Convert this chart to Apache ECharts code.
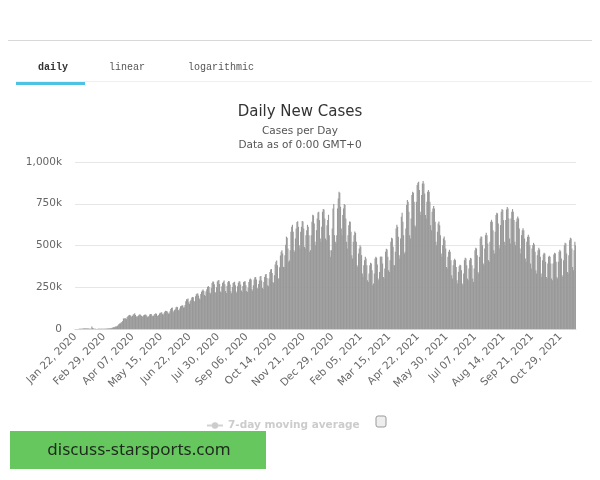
<!DOCTYPE html>
<html>
<head>
<meta charset="utf-8">
<script src="https://cdn.jsdelivr.net/npm/echarts@6/dist/echarts.min.js"></script>
<style>
  html, body { margin: 0; padding: 0; background: #fff; }
</style>
</head>
<body>
<div id="main" style="width: 600px;height: 480px"></div>

<script type="text/javascript">
    // first day of the series, one bar per day after it
    var startDate = '2020-01-22';

    // daily new cases, in thousands, one row per week (Wed..Tue)
    var dailyCases = [
        0.6,0.1,0.6,0.3,0.7,0.8,1.5,
        1.8,2.1,2.0,2.6,2.8,3.2,3.9,
        3.7,3.2,3.4,2.7,2.6,2.0,2.1,
        2.0,15.1,6.5,2.6,2.1,2.1,2.0,
        0.5,0.6,1.0,1.0,1.0,1.1,0.9,
        1.3,1.5,1.8,1.6,2.0,1.8,2.4,
        2.2,2.8,3.0,4.0,3.6,4.3,4.8,
        7.2,8.5,10.6,11.1,13.8,16.0,15.0,
        17.3,24.6,29.8,32.4,33.4,39.8,41.0,
        48.4,63.0,61.0,66.4,62.6,59.0,72.3,
        75.8,81.1,84.5,82.6,78.9,71.9,78.6,
        86.8,88.9,94.5,84.1,77.0,71.8,76.5,
        80.5,85.7,88.5,84.0,78.3,72.7,76.0,
        82.6,84.8,86.8,85.5,79.4,71.2,74.9,
        76.7,86.1,89.0,89.7,81.3,77.0,78.6,
        86.1,89.7,94.6,90.2,79.0,77.9,84.1,
        92.7,97.0,97.6,99.6,88.8,86.0,94.4,
        104,109,108,106,100,91,95,
        106,120,126,128,110,100,113,
        118,130,133,131,114,108,123,
        136,138,142,140,128,130,143,
        166,178,178,182,160,150,168,
        175,188,192,190,168,163,196,
        208,212,212,200,182,176,210,
        223,230,236,228,203,198,224,
        238,252,257,252,218,212,246,
        276,285,283,268,222,216,250,
        285,290,293,270,225,220,256,
        276,283,290,268,228,216,257,
        280,287,284,266,226,214,251,
        275,280,283,262,225,216,256,
        277,286,285,266,230,222,258,
        281,285,286,262,227,221,247,
        282,296,302,296,240,229,262,
        296,310,312,296,246,240,270,
        290,315,318,290,246,240,282,
        312,326,330,305,262,256,302,
        342,356,360,336,282,276,322,
        386,402,410,382,302,302,370,
        440,462,472,452,372,370,442,
        505,553,546,482,402,410,472,
        582,612,624,582,472,462,542,
        602,640,645,612,502,482,582,
        612,646,644,602,492,482,562,
        592,624,612,562,462,472,562,
        642,684,680,632,522,502,592,
        662,698,702,652,542,522,612,
        702,718,716,662,542,532,622,
        652,684,562,472,432,472,602,
        722,748,562,522,512,562,722,
        782,822,816,732,602,562,682,
        722,748,742,662,522,482,562,
        622,644,642,582,442,422,522,
        562,584,576,522,382,372,452,
        482,502,492,442,332,312,382,
        412,432,422,382,292,282,332,
        382,396,392,352,262,272,332,
        422,432,426,386,302,292,342,
        432,434,432,392,312,302,362,
        462,480,476,432,352,342,412,
        522,546,542,492,382,382,462,
        602,624,612,552,442,422,542,
        672,696,642,562,452,462,602,
        742,772,762,702,562,542,662,
        802,822,816,762,622,612,762,
        862,876,882,832,702,682,802,
        872,886,872,812,682,662,762,
        822,832,822,762,622,592,702,
        722,736,722,642,522,502,582,
        632,644,622,562,452,432,502,
        542,554,532,482,372,362,432,
        462,474,462,412,322,302,382,
        412,420,412,372,292,272,342,
        376,384,382,352,272,262,332,
        412,426,422,382,302,292,362,
        412,426,422,382,302,282,362,
        472,486,482,442,342,332,432,
        542,554,552,502,392,382,482,
        562,576,562,512,412,402,522,
        642,654,642,592,472,452,582,
        682,696,692,632,502,482,622,
        702,718,712,652,522,502,652,
        716,730,722,662,542,512,662,
        702,718,702,652,522,502,642,
        662,674,662,602,482,452,562,
        592,604,592,542,422,402,522,
        552,564,552,502,392,362,482,
        502,516,506,462,352,332,442,
        472,486,476,432,332,312,412,
        446,456,452,402,312,302,392,
        432,438,432,392,302,292,392,
        446,456,452,402,312,302,402,
        462,474,466,422,322,312,412,
        502,516,512,452,342,332,442,
        532,546,542,482,372,352,472,
        522,502
    ];

    var tabs = ['daily', 'linear', 'logarithmic'];
    var yTicks = [0, 250, 500, 750, 1000];

    var monthNames = ['Jan','Feb','Mar','Apr','May','Jun','Jul','Aug','Sep','Oct','Nov','Dec'];
    var dates = [];
    var d0 = new Date(startDate + 'T00:00:00Z');
    for (var i = 0; i < dailyCases.length; i++) {
        var d = new Date(d0.getTime() + i * 86400000);
        var dd = d.getUTCDate();
        dates.push(monthNames[d.getUTCMonth()] + ' ' + (dd < 10 ? '0' + dd : dd) + ', ' + d.getUTCFullYear());
    }

    var myChart = echarts.init(document.getElementById('main'));

    var tabX = [53, 127, 221];
    var graphics = [
        { type: 'line', shape: { x1: 8, y1: 40.5, x2: 592, y2: 40.5 }, style: { stroke: '#d8d8d8', lineWidth: 1 } },
        { type: 'line', shape: { x1: 16, y1: 81.5, x2: 592, y2: 81.5 }, style: { stroke: '#f0f0f0', lineWidth: 1 } },
        { type: 'rect', shape: { x: 16, y: 82, width: 69, height: 3 }, style: { fill: '#4ec2e4' } },
        { type: 'rect', shape: { x: 376, y: 416, width: 10, height: 11, r: 2 }, style: { fill: '#eeeeee', stroke: '#999', lineWidth: 1 } },
        { type: 'rect', shape: { x: 10, y: 431, width: 256, height: 38 }, style: { fill: '#66c75e' } },
        { type: 'text', x: 139, y: 450, style: { text: 'discuss-starsports.com', fontSize: 17, fontFamily: 'Noto Sans', fill: '#1e2a1e', align: 'center', verticalAlign: 'middle' } }
    ];
    tabs.forEach(function (t, k) {
        graphics.push({
            type: 'text', x: tabX[k], y: 67,
            style: {
                text: t, fontSize: 10, fontFamily: 'Liberation Mono',
                fontWeight: k === 0 ? 'bold' : 'normal',
                fill: k === 0 ? '#333' : '#555', align: 'center', verticalAlign: 'middle'
            }
        });
    });

    var option = {
        animation: false,
        title: {
            text: 'Daily New Cases',
            subtext: 'Cases per Day\nData as of 0:00 GMT+0',
            left: 'center',
            top: 100,
            itemGap: 4,
            textStyle: { fontSize: 15, fontWeight: 'normal', color: '#333', fontFamily: 'DejaVu Sans' },
            subtextStyle: { fontSize: 10.5, color: '#555', lineHeight: 14, fontFamily: 'DejaVu Sans' }
        },
        legend: {
            data: ['7-day moving average'],
            selected: { '7-day moving average': false },
            left: 201,
            top: 415,
            itemWidth: 16,
            itemHeight: 8,
            itemGap: 5,
            inactiveColor: '#cccccc',
            textStyle: { fontSize: 10.5, fontWeight: 'bold', fontFamily: 'DejaVu Sans' }
        },
        grid: { left: 75, right: 24, top: 162, bottom: 151 },
        xAxis: {
            type: 'category',
            data: dates,
            axisLine: { lineStyle: { color: '#ccd6eb' } },
            axisTick: { show: false },
            axisLabel: {
                interval: 37,
                rotate: 45,
                color: '#666',
                fontSize: 10.5,
                fontFamily: 'DejaVu Sans',
                margin: 6
            }
        },
        yAxis: {
            type: 'value',
            min: yTicks[0],
            max: yTicks[yTicks.length - 1],
            interval: 250,
            axisLine: { show: false },
            axisTick: { show: false },
            splitLine: { lineStyle: { color: '#e6e6e6' } },
            axisLabel: {
                color: '#666',
                fontSize: 10.5,
                fontFamily: 'DejaVu Sans',
                margin: 13,
                formatter: function (v) {
                    if (v === 0) return '0';
                    return (v >= 1000 ? Math.floor(v / 1000) + ',' + String(v % 1000).padStart(3, '0') : v) + 'k';
                }
            }
        },
        series: [
            {
                name: 'Daily Cases',
                type: 'bar',
                data: dailyCases,
                barWidth: '150%',
                itemStyle: { color: '#999999' }
            },
            {
                name: '7-day moving average',
                type: 'line',
                data: [],
                symbol: 'circle',
                itemStyle: { color: '#ff9900' }
            }
        ],
        graphic: graphics
    };

    myChart.setOption(option);
</script>
</body>
</html>
